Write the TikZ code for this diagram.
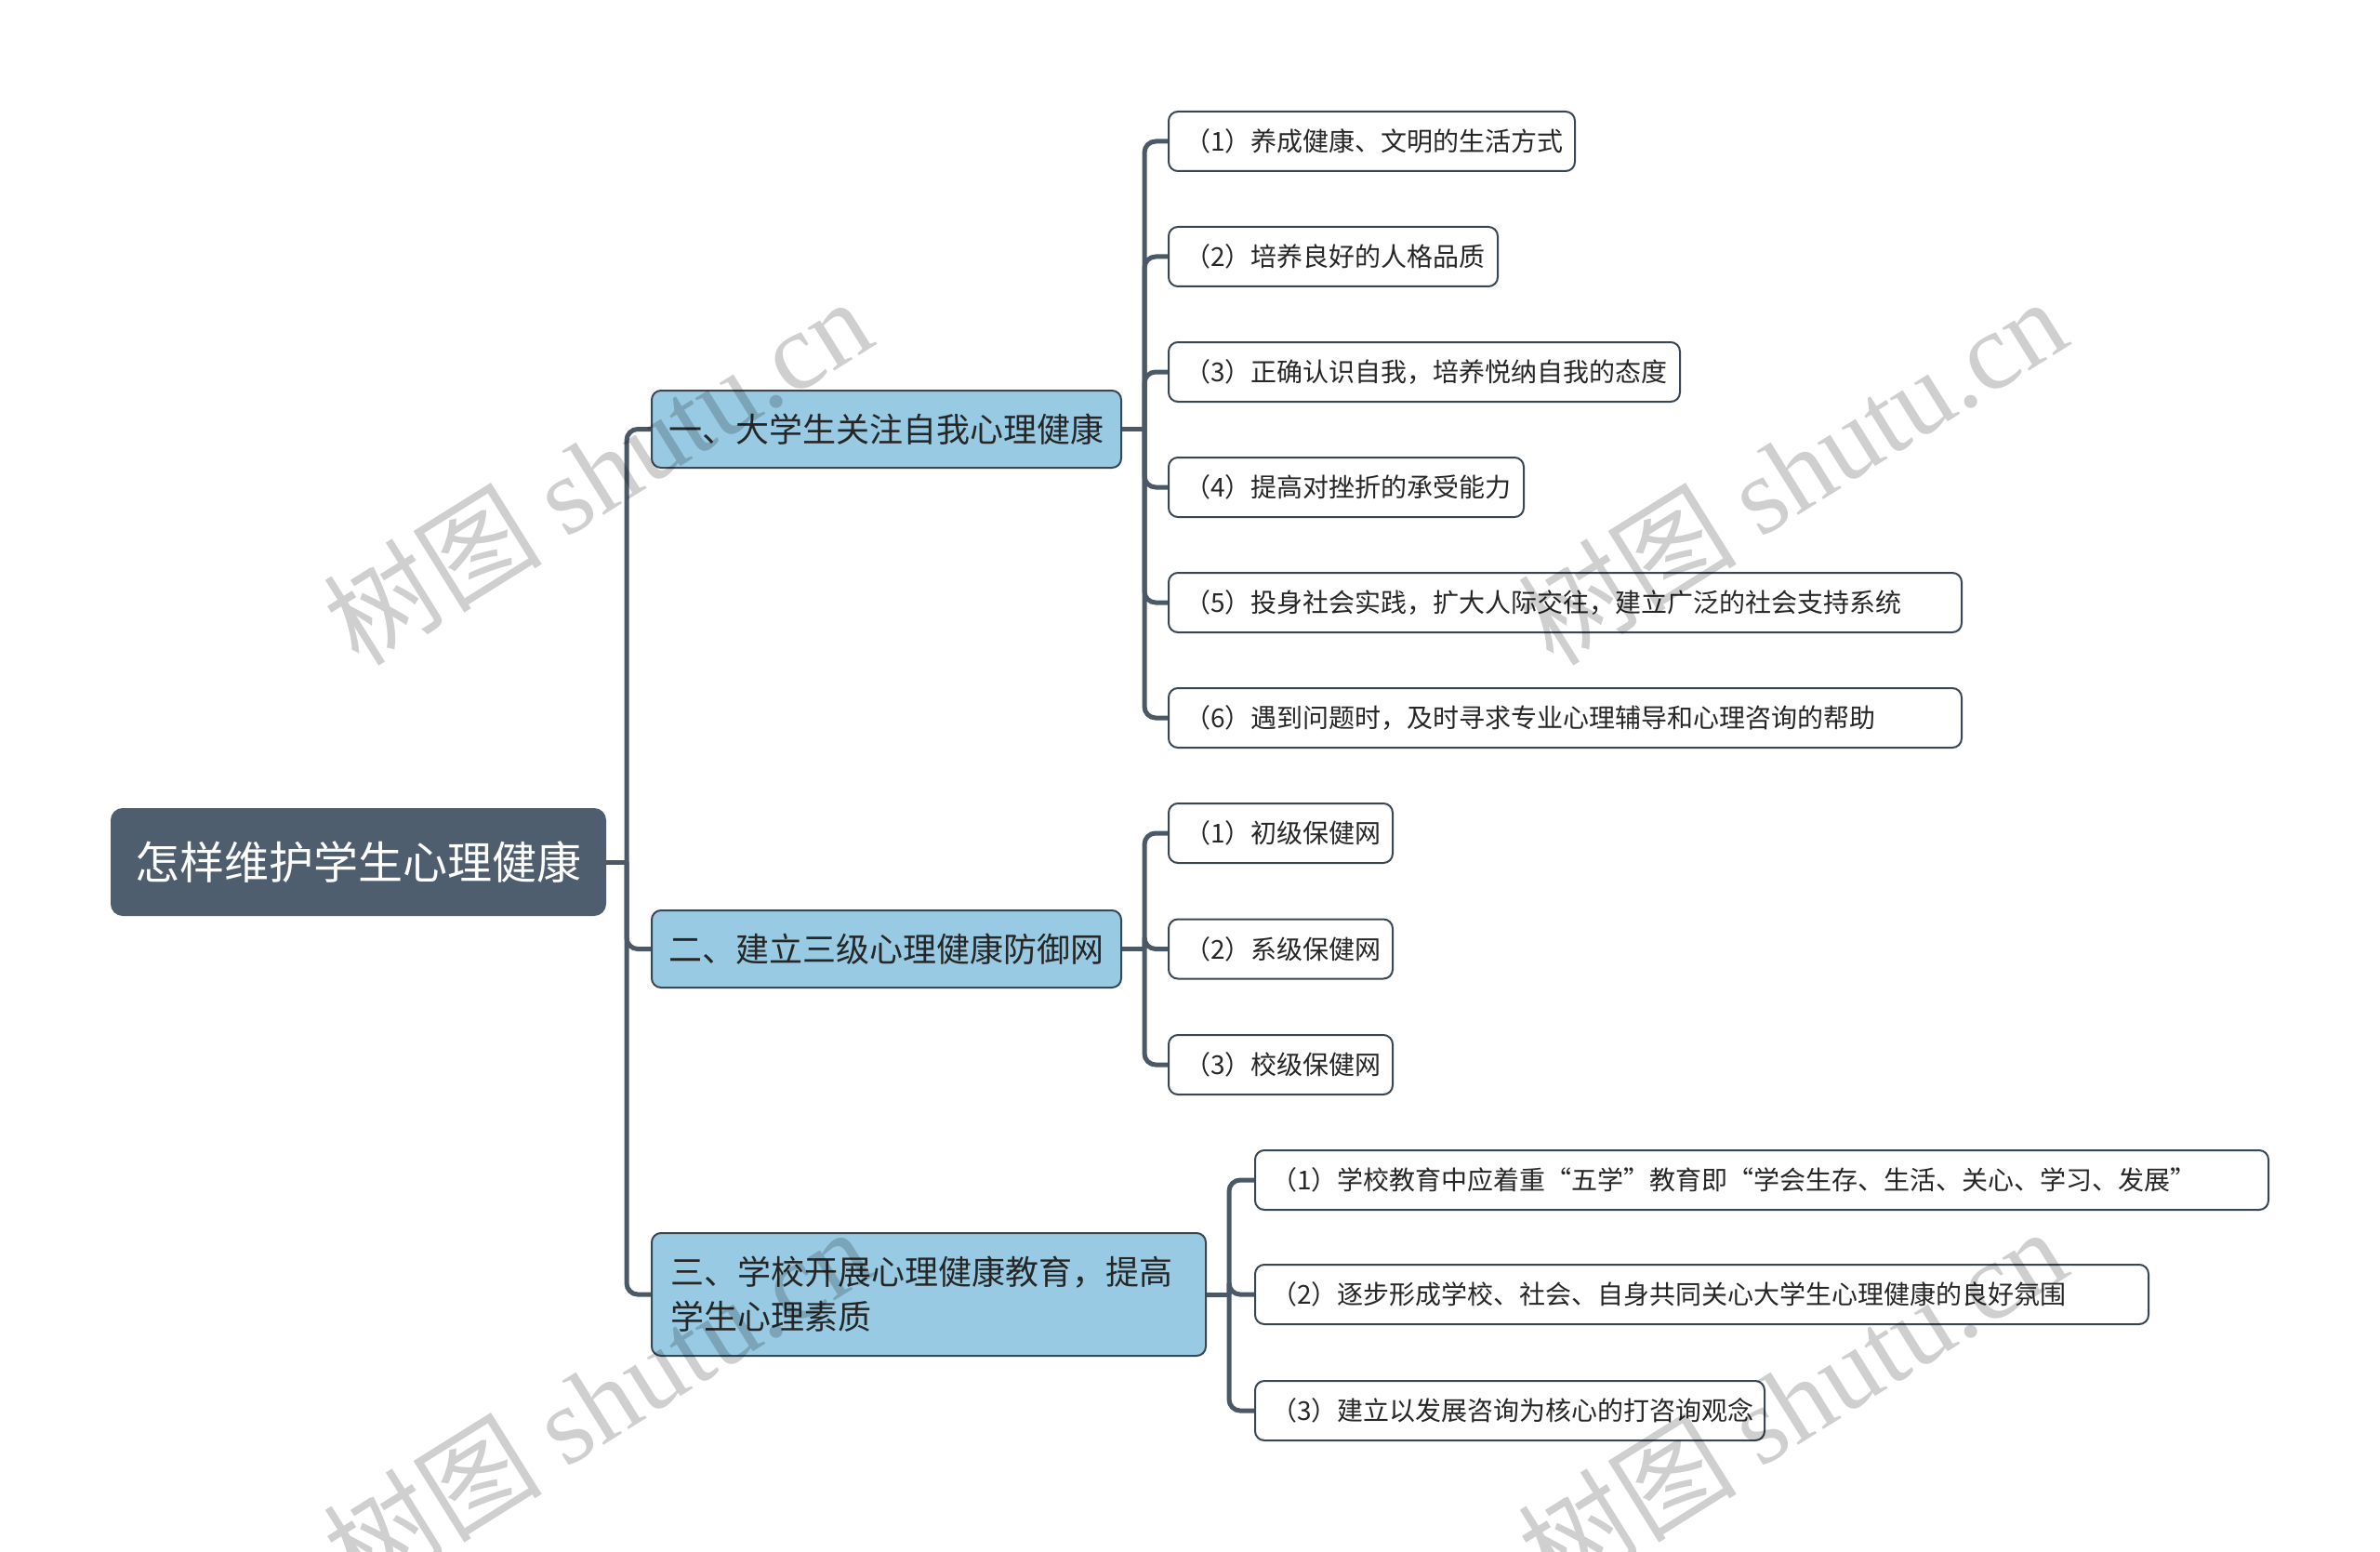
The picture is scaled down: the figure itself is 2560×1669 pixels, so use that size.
\documentclass[tikz,border=0pt]{standalone}
\usepackage{fontspec}
\setmainfont{Noto Sans CJK SC}
\newfontfamily\wmserif{Liberation Serif}
\definecolor{rootfill}{RGB}{79,94,110}
\definecolor{lonefill}{RGB}{152,203,227}
\definecolor{boxborder}{RGB}{58,71,82}
\definecolor{linec}{RGB}{75,89,102}
\definecolor{textc}{RGB}{38,38,38}
\begin{document}
\begin{tikzpicture}[x=0.5pt,y=-0.5pt,
  conn/.style={draw=linec, line width=2.5pt},
  elbow/.style={conn, rounded corners=6pt},
  rootbox/.style={fill=rootfill, draw=rootfill, line width=1pt, rounded corners=6pt,
    text=white, font=\fontsize{24}{28}\selectfont, inner sep=0pt, anchor=west},
  lonebox/.style={fill=lonefill, draw=boxborder, line width=1pt, rounded corners=5pt,
    text=textc, font=\fontsize{18}{24}\selectfont, inner xsep=9pt, inner ysep=0pt, anchor=west},
  ltwobox/.style={fill=white, draw=boxborder, line width=1pt, rounded corners=5pt,
    text=textc, font=\fontsize{14}{16}\selectfont, inner xsep=8.5pt, inner ysep=0pt,
    minimum height=32pt, anchor=west},
  wm/.style={text=black, text opacity=0.19, rotate=32, inner sep=0pt}
]
\useasboundingbox (0,0) rectangle (2560,1669);

% root
\node[rootbox, minimum width=265.5pt, minimum height=57pt] (root) at (119,927) {怎样维护学生心理健康};

% level 1
\node[lonebox, minimum height=41.5pt] (a) at (700,461.5) {\makebox[234.5pt][l]{一、大学生关注自我心理健康}};
\node[lonebox, minimum height=41.5pt] (b) at (700,1020.5) {\makebox[234.5pt][l]{二、建立三级心理健康防御网}};
\node[lonebox, minimum height=66pt, inner xsep=10pt, text width=278pt, align=left] (c) at (700,1392) {三、学校开展心理健康教育，提高\\学生心理素质};

% level 2, branch 1
\node[ltwobox] (a1) at (1256,152) {\makebox[201.5pt][l]{（1）养成健康、文明的生活方式}};
\node[ltwobox] (a2) at (1256,276) {\makebox[160pt][l]{（2）培养良好的人格品质}};
\node[ltwobox] (a3) at (1256,400) {\makebox[258pt][l]{（3）正确认识自我，培养悦纳自我的态度}};
\node[ltwobox] (a4) at (1256,524) {\makebox[174pt][l]{（4）提高对挫折的承受能力}};
\node[ltwobox] (a5) at (1256,648) {\makebox[409.5pt][l]{（5）投身社会实践，扩大人际交往，建立广泛的社会支持系统}};
\node[ltwobox] (a6) at (1256,772) {\makebox[409.5pt][l]{（6）遇到问题时，及时寻求专业心理辅导和心理咨询的帮助}};

% level 2, branch 2
\node[ltwobox] (b1) at (1256,896) {\makebox[103.5pt][l]{（1）初级保健网}};
\node[ltwobox] (b2) at (1256,1020.5) {\makebox[103.5pt][l]{（2）系级保健网}};
\node[ltwobox] (b3) at (1256,1145) {\makebox[103.5pt][l]{（3）校级保健网}};

% level 2, branch 3
\node[ltwobox] (c1) at (1349,1269) {\makebox[528pt][l]{（1）学校教育中应着重“五学”教育即“学会生存、生活、关心、学习、发展”}};
\node[ltwobox] (c2) at (1349,1392) {\makebox[463.5pt][l]{（2）逐步形成学校、社会、自身共同关心大学生心理健康的良好氛围}};
\node[ltwobox] (c3) at (1349,1517) {\makebox[257pt][l]{（3）建立以发展咨询为核心的打咨询观念}};

% junctions
\coordinate (j0) at (674,927);
\coordinate (j1) at (1231,461.5);
\coordinate (j2) at (1231,1020.5);
\coordinate (j3) at (1322,1392);

% connectors
\draw[conn] (root.east) -- (j0);
\foreach \t in {a,b,c} \draw[elbow] (j0) |- (\t.west);
\draw[conn] (a.east) -- (j1);
\foreach \t in {a1,a2,a3,a4,a5,a6} \draw[elbow] (j1) |- (\t.west);
\draw[conn] (b.east) -- (j2);
\foreach \t in {b1,b2,b3} \draw[elbow] (j2) |- (\t.west);
\draw[conn] (c.east) -- (j3);
\foreach \t in {c1,c2,c3} \draw[elbow] (j3) |- (\t.west);

% watermarks
\node[wm] (wm1) at (642,506) {\fontsize{59}{64}\selectfont 树图 {\wmserif shutu.cn}};
\node[wm] (wm2) at (1927,506) {\fontsize{59}{64}\selectfont 树图 {\wmserif shutu.cn}};
\node[wm] (wm3) at (642,1506) {\fontsize{59}{64}\selectfont 树图 {\wmserif shutu.cn}};
\node[wm] (wm4) at (1927,1506) {\fontsize{59}{64}\selectfont 树图 {\wmserif shutu.cn}};
\end{tikzpicture}
\end{document}
